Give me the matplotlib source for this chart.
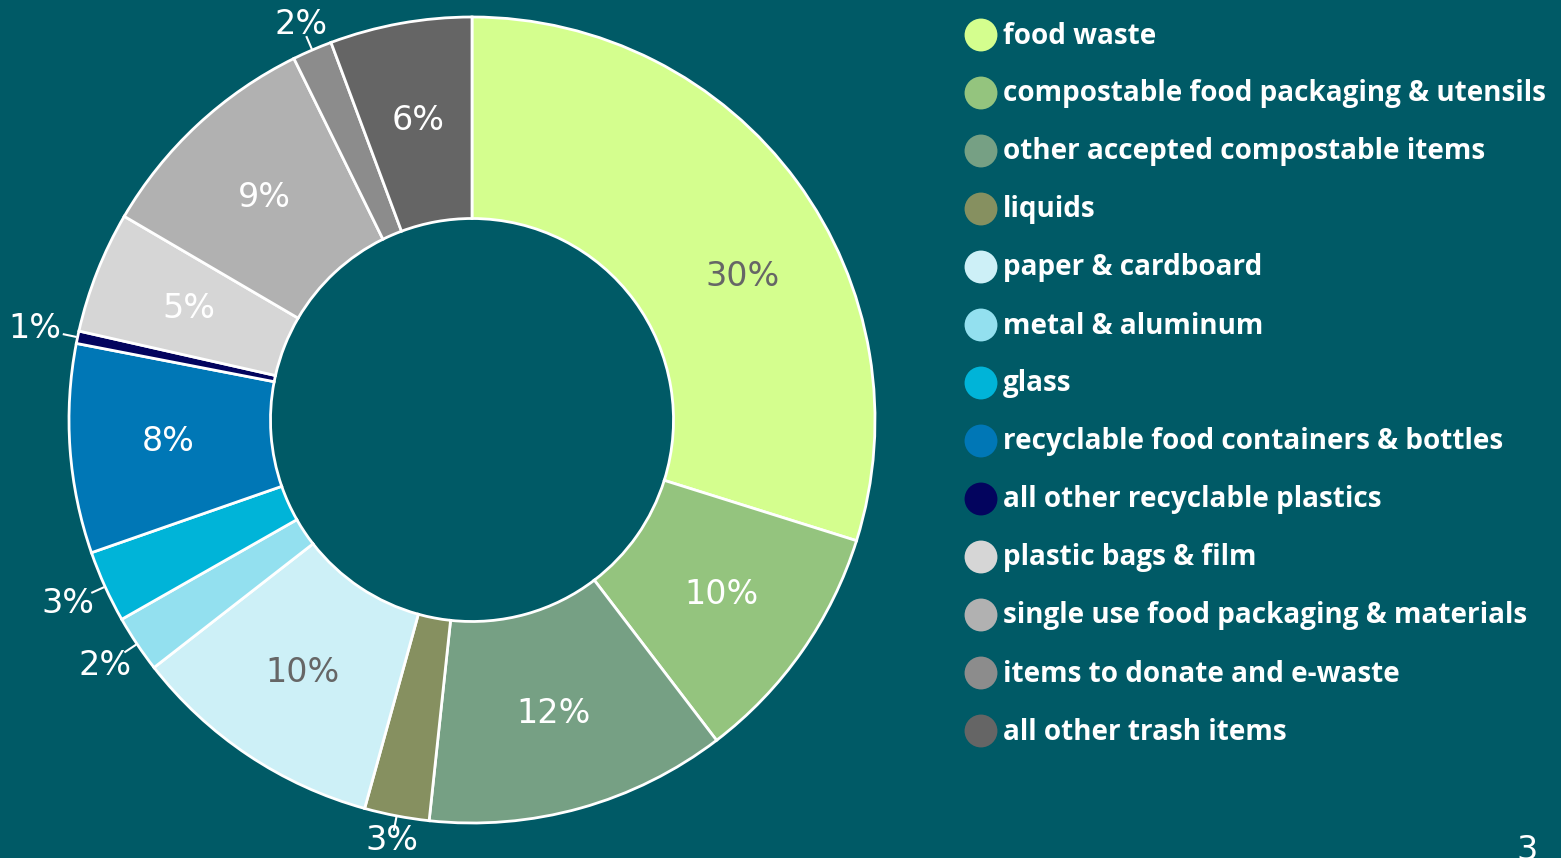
import matplotlib
matplotlib.use("Agg")
import matplotlib.pyplot as plt
import numpy as np

plt.rcParams['font.family'] = ['Open Sans', 'DejaVu Sans']

categories = [
    "food waste",
    "compostable food packaging & utensils",
    "other accepted compostable items",
    "liquids",
    "paper & cardboard",
    "metal & aluminum",
    "glass",
    "recyclable food containers & bottles",
    "all other recyclable plastics",
    "plastic bags & film",
    "single use food packaging & materials",
    "items to donate and e-waste",
    "all other trash items",
]
shares = [29.9, 9.8, 12.1, 2.6, 10.2, 2.3, 2.9, 8.4, 0.5, 4.9, 9.3, 1.6, 5.7]
colors = [
    "#d4fe8e", "#94c47e", "#76a084", "#869060", "#cdf0f7", "#93e0ef", "#00b4d8",
    "#0077b6", "#03045e", "#d6d6d6", "#b1b1b1", "#8c8c8c", "#656565",
]
# slices with light fill get dark label text
dark_text = {"food waste", "paper & cardboard"}

BG = "#005a66"
W, H = 1561, 858
fig = plt.figure(figsize=(W / 100, H / 100), dpi=100)
fig.patch.set_facecolor(BG)

cx, cy, r = 472, 420, 403
ax = fig.add_axes([(cx - r) / W, (H - cy - r) / H, 2 * r / W, 2 * r / H])

wedges, _ = ax.pie(
    shares, colors=colors, startangle=90, counterclock=False, radius=1.0,
    wedgeprops=dict(width=0.5, edgecolor='white', linewidth=2),
)
ax.set_xlim(-1, 1)
ax.set_ylim(-1, 1)
ax.set_aspect('equal')
ax.axis('off')

label_font = dict(family='DejaVu Sans', fontsize=24)
total = sum(shares)
for w, cat, v in zip(wedges, categories, shares):
    pct = max(int(v / total * 100 + 0.5), 1)
    mid = np.deg2rad((w.theta1 + w.theta2) / 2)
    c, s = np.cos(mid), np.sin(mid)
    if v >= 4:
        rr = 0.755
        if cat == "food waste":
            # big slice: label pulled toward the middle of the ring's right side
            mid = np.deg2rad(28)
            c, s = np.cos(mid), np.sin(mid)
            rr = 0.76
        ax.text(rr * c, rr * s, f"{pct}%", ha='center', va='center',
                color="#666666" if cat in dark_text else "white",
                clip_on=False, **label_font)
    else:
        ax.plot([1.005 * c, 1.035 * c], [1.005 * s, 1.035 * s], color='white',
                lw=1.5, clip_on=False)
        ro = 1.06 + 0.05 * c ** 2
        ax.text(ro * c, ro * s, f"{pct}%", ha='center', va='center',
                color='white', clip_on=False, **label_font)

# legend drawn in pixel space on the right
lax = fig.add_axes([0, 0, 1, 1])
lax.set_xlim(0, W)
lax.set_ylim(H, 0)
lax.axis('off')
lax.patch.set_alpha(0)
for i, (cat, col) in enumerate(zip(categories, colors)):
    y = 35 + 58 * i
    lax.scatter([981], [y], s=560, color=col, edgecolors='none')
    lax.text(1003, y + 1, cat, ha='left', va='center', fontsize=20.1,
             fontweight='bold', color='white')

lax.text(1527, 834, "3", ha='center', va='top', color='white', **label_font)

fig.savefig("out.png", dpi=100, facecolor=BG)
